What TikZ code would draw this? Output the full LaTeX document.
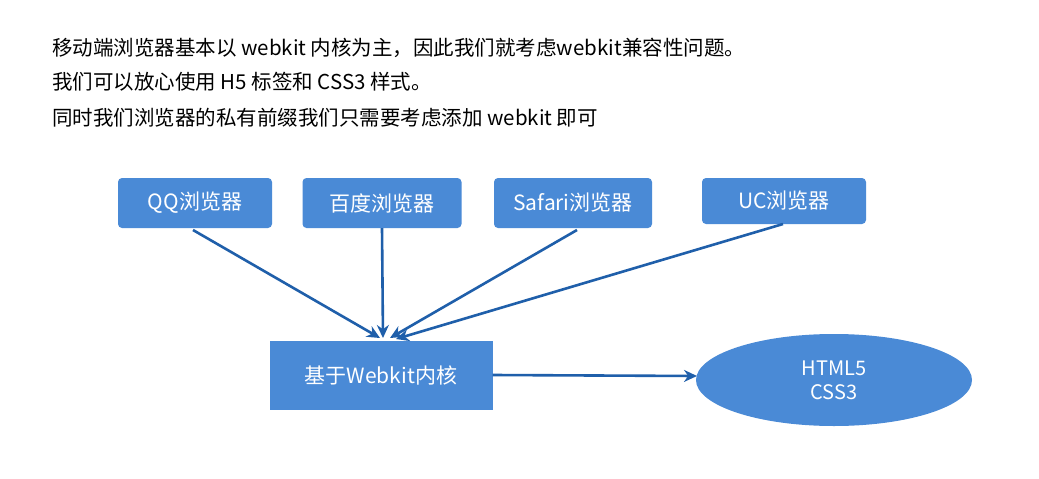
\documentclass[tikz,border=0pt]{standalone}
\usepackage{fontspec}
\setmainfont{Noto Sans CJK SC}
\usetikzlibrary{shapes.geometric,arrows.meta}
\definecolor{boxc}{HTML}{4A8AD6}
\definecolor{arr}{HTML}{1F5FAA}
\begin{document}
\begin{tikzpicture}[x=1pt,y=-1pt,
 box/.style={draw=none,fill=boxc,text=white,font=\fontsize{21}{24}\selectfont,inner sep=0},
 con/.style={draw=arr,line width=2.6pt,-{Stealth[length=13pt,width=12pt]}},
 txt/.style={anchor=west,font=\fontsize{20.5}{24}\selectfont,inner sep=0}]
\useasboundingbox[fill=white] (0,0) rectangle (1039,479);
\node[txt] (t1) at (52,48) {移动端浏览器基本以 webkit 内核为主，因此我们就考虑webkit兼容性问题。};
\node[txt] (t2) at (52,82) {我们可以放心使用 H5 标签和 CSS3 样式。};
\node[txt] (t3) at (52,118) {同时我们浏览器的私有前缀我们只需要考虑添加 webkit 即可};
\node[box,rounded corners=4,minimum width=154,minimum height=50] (qq) at (195,203) {QQ浏览器};
\node[box,rounded corners=4,minimum width=159,minimum height=50] (bd) at (382,203) {百度浏览器};
\node[box,rounded corners=4,minimum width=158,minimum height=50] (sf) at (573,203) {Safari浏览器};
\node[box,rounded corners=4,minimum width=164,minimum height=46] (uc) at (784,201) {UC浏览器};
\node[box,minimum width=223,minimum height=69] (wk) at (381,375) {基于Webkit内核};
\node[box,ellipse,minimum width=276,minimum height=92,align=center,font=\fontsize{20}{24}\selectfont] (h5) at (834,380) {HTML5\\CSS3};
\draw[con] (193,230) -- (380,338);
\draw[con] (bd.south) -- (383,338);
\draw[con] (577,230) -- (390,338);
\draw[con] (783,224) -- (396,339);
\draw[con] (wk.east) -- (697,376);
\end{tikzpicture}
\end{document}
